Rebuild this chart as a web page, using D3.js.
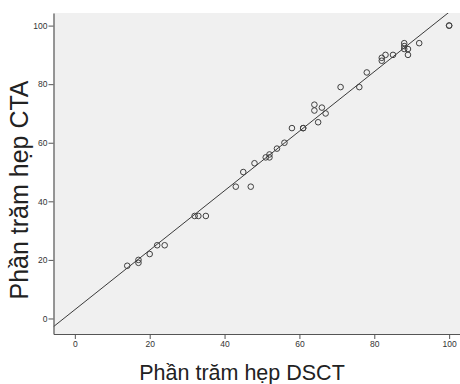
<!DOCTYPE html>
<html><head><meta charset="utf-8">
<script src="https://cdn.jsdelivr.net/npm/d3@7"></script>
<style>body{margin:0;background:#fff}svg{display:block}</style>
</head><body>
<script>
const dscT = [14,17,17,20,22,24,32,33,35,43,47,45,48,51,52,52,54,56,58,61,61,64,64,66,67,65,71,76,78,82,82,83,85,88,88,88,89,89,92,100,100];
const ctaV = [18,20,19,22,25,25,35,35,35,45,45,50,53,55,56,55,58,60,65,65,65,73,71,72,70,67,79,79,84,89,88,90,90,94,93,92,92,90,94,100,100];
const xTicks = [0,20,40,60,80,100];
const yTicks = [0,20,40,60,80,100];
const fitIntercept = 3.0, fitSlope = 1.016;
const xLabel = "Phần trăm hẹp DSCT";
const yLabel = "Phần trăm hẹp CTA";

const W = 460, H = 384;
const m = {l:53.5, t:13, r:0, b:50};
const svg = d3.select("body").append("svg").attr("width",W).attr("height",H);
const x = d3.scaleLinear().domain([-5.7,102.9]).range([m.l, W-m.r]);
const y = d3.scaleLinear().domain([-5.3,104.3]).range([H-m.b, m.t]);

svg.append("rect").attr("x",m.l).attr("y",m.t).attr("width",W-m.r-m.l).attr("height",H-m.b-m.t).attr("fill","#f0f0f0");

svg.append("clipPath").attr("id","c").append("rect").attr("x",m.l).attr("y",m.t).attr("width",W-m.r-m.l).attr("height",H-m.b-m.t);
const [x0,x1] = x.domain();
svg.append("line").attr("clip-path","url(#c)")
  .attr("x1",x(x0)).attr("y1",y(fitIntercept+fitSlope*x0))
  .attr("x2",x(x1)).attr("y2",y(fitIntercept+fitSlope*x1))
  .attr("stroke","#3a3a3a").attr("stroke-width",1);

svg.append("g").selectAll("circle").data(dscT.map((d,i)=>[d,ctaV[i]])).join("circle")
  .attr("cx",d=>x(d[0])).attr("cy",d=>y(d[1])).attr("r",2.8)
  .attr("fill","none").attr("stroke","#404040").attr("stroke-width",1);

const xa = svg.append("g").attr("transform",`translate(0,${H-m.b})`)
  .call(d3.axisBottom(x).tickValues(xTicks).tickSize(5).tickSizeOuter(0).tickPadding(2));
const ya = svg.append("g").attr("transform",`translate(${m.l},0)`)
  .call(d3.axisLeft(y).tickValues(yTicks).tickSize(5).tickSizeOuter(0).tickPadding(1));
[xa,ya].forEach(a=>{
  a.select(".domain").attr("stroke","#555").attr("stroke-width",1.2);
  a.selectAll(".tick line").attr("stroke","#555");
  a.selectAll(".tick text").attr("fill","#333").attr("font-family","Liberation Sans, Arial, sans-serif").attr("font-size","8.5px");
});

svg.append("text").attr("x",242).attr("y",380).attr("text-anchor","middle")
  .attr("font-family","Liberation Sans, Arial, sans-serif").attr("font-size","21.5px").attr("fill","#222").text(xLabel);
svg.append("text").attr("transform",`translate(28,190) rotate(-90)`).attr("text-anchor","middle")
  .attr("font-family","Liberation Sans, Arial, sans-serif").attr("font-size","25px").attr("fill","#222").text(yLabel);
</script>
</body></html>
